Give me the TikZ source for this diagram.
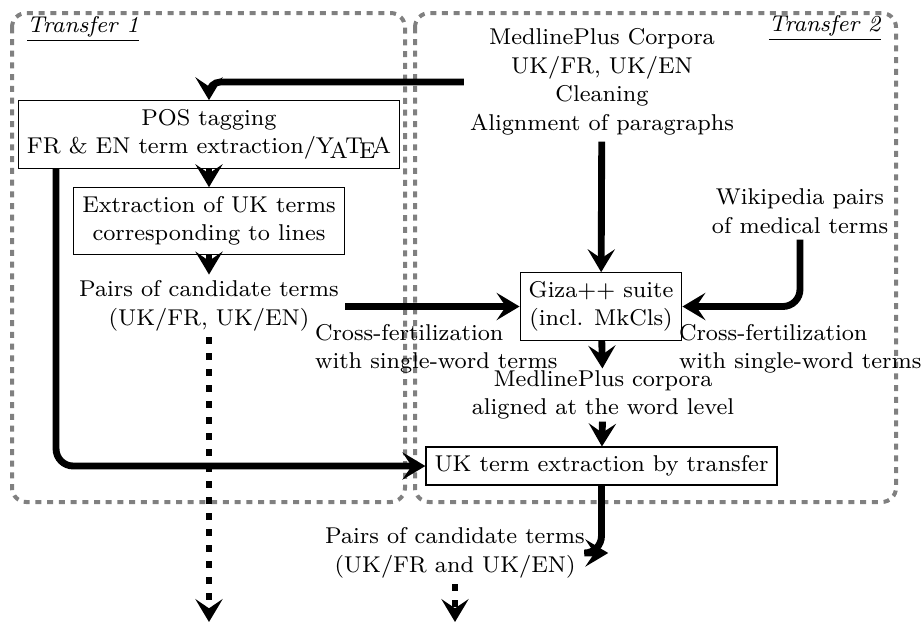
\documentclass[tikz,border=0pt]{standalone}
\usepackage{amsmath}
\usepackage{xcolor}
\usepackage{tikz}
\usetikzlibrary{arrows.meta,positioning,calc}
\newcommand{\yatea}{Y\kern-.2em\lower.5ex\hbox{A}\kern-.1em T\kern-.1667em\lower.5ex\hbox{E}\kern-.125em A}

\begin{document}
\begin{tikzpicture}[x=0.35pt,y=-0.35pt, font={\fontsize{8}{10}\selectfont},
    box/.style={draw, align=center, inner sep=3pt},
    txt/.style={align=center, inner sep=2pt},
    flow/.style={line width=2.4pt, -{Stealth[length=8pt,width=9.5pt,inset=3.2pt]}},
    later/.style={flow, dash pattern=on 2.4pt off 3.2pt},
    phase/.style={draw=gray, line width=1.4pt, dash pattern=on 2.1pt off 2pt, rounded corners=5pt}]
\useasboundingbox (0,0) rectangle (923,625);
\draw[phase] (12,13) rectangle (405,502);
\draw[phase] (415,13) rectangle (896,502);
\node (t1) at (83,29) {\underline{\textit{Transfer 1}}};
\node (t2) at (825,28) {\underline{\textit{Transfer 2}}};

\node[txt] (corpora) at (602,82) {MedlinePlus Corpora\\UK/FR, UK/EN\\Cleaning\\Alignment of paragraphs};
\node[box] (pos) at (209,134.5) {POS tagging\\FR \& EN term extraction/\yatea};
\node[box] (extr) at (209,221) {Extraction of UK terms\\corresponding to lines};
\node[txt] (pairs) at (209,306) {Pairs of candidate terms\\(UK/FR, UK/EN)};
\node[box] (giza) at (601,306.5) {Giza$++$ suite\\(incl. MkCls)};
\node[txt] (wiki) at (800,211) {Wikipedia pairs\\of medical terms};
\node[txt, align=left, anchor=north west, inner sep=0.5pt] (crossl) at (313,322) {Cross-fertilization\\with single-word terms};
\node[txt, align=left, anchor=north west, inner sep=0.5pt] (crossr) at (677,322) {Cross-fertilization\\with single-word terms};
\node[txt, inner sep=0.5pt] (aligned) at (603,395) {MedlinePlus corpora\\aligned at the word level};
\node[box] (uk) at (601.5,466) {UK term extraction by transfer};
\node[txt] (final) at (455,553) {Pairs of candidate terms\\(UK/FR and UK/EN)};
\coordinate (end1) at (209,622);
\coordinate (end2) at (455,622);

\draw[flow, rounded corners=4pt] (corpora.west) -| (pos.north);
\draw[flow] (pos) -- (extr);
\draw[flow] (extr) -- (pairs);
\draw[later] (pairs) -- (end1);
\draw[flow] (pairs.east |- giza) -- (giza);
\draw[flow] (corpora) -- (giza);
\draw[flow, rounded corners=6pt] (wiki.south) |- (giza.east);
\draw[flow] (giza) -- (aligned);
\draw[flow] (aligned) -- (uk);
\draw[flow, rounded corners=6pt] ($(pos.south west)!0.1!(pos.south east)$) |- (uk.west);
\draw[flow, rounded corners=6pt, shorten >=-6pt] (uk.south) |- (final.east);
\draw[later] (final) -- (end2);
\end{tikzpicture}
\end{document}
